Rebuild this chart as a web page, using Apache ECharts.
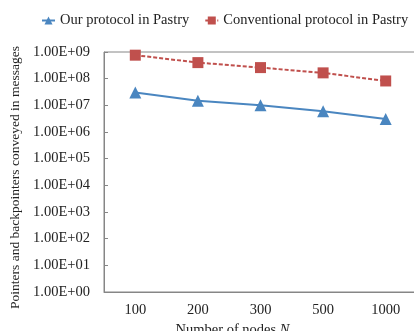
<!DOCTYPE html>
<html>
<head>
<meta charset="utf-8">
<script src="https://cdn.jsdelivr.net/npm/echarts@6/dist/echarts.min.js"></script>
<style>
html,body{margin:0;padding:0;background:#fff;}
#chart{width:414px;height:331px;}
</style>
</head>
<body>
<div id="chart"></div>
<script>
var categories = ['100', '200', '300', '500', '1000'];
var ourProtocol = [3.0e7, 1.5e7, 1.0e7, 6.0e6, 3.1e6];
var conventional = [7.6e8, 4.0e8, 2.6e8, 1.65e8, 8.2e7];
var yTickLabels = ['1.00E+00','1.00E+01','1.00E+02','1.00E+03','1.00E+04','1.00E+05','1.00E+06','1.00E+07','1.00E+08','1.00E+09'];
var seriesNames = ['Our protocol in Pastry', 'Conventional protocol in Pastry'];

var font = '"Liberation Serif", "Times New Roman", serif';
var fs = 14.5;
var axisColor = '#868686';
var chart = echarts.init(document.getElementById('chart'), null, {renderer: 'canvas'});
chart.setOption({
  animation: false,
  textStyle: {fontFamily: font, color: '#000'},
  legend: {
    top: 13,
    left: 41,
    width: 400,
    padding: 0,
    itemWidth: 13,
    itemHeight: 10,
    itemGap: 15,
    textStyle: {fontFamily: font, fontSize: fs, color: '#222'},
    data: seriesNames
  },
  grid: {
    left: 104, top: 52, width: 313, height: 240,
    outerBoundsMode: 'none',
    containLabel: false,
    show: true, borderColor: axisColor, borderWidth: 1
  },
  xAxis: {
    type: 'category',
    data: categories,
    boundaryGap: true,
    axisLine: {lineStyle: {color: axisColor}},
    axisTick: {inside: true, length: 4, lineStyle: {color: axisColor}},
    axisLabel: {fontFamily: font, fontSize: fs, color: '#222', margin: 11},
    name: 'Number of nodes {i|N}',
    nameLocation: 'middle',
    nameGap: 30,
    nameTextStyle: {
      fontFamily: font, fontSize: fs, color: '#222',
      padding: [0, 56, 0, 0],
      rich: {i: {fontStyle: 'italic', fontFamily: font, fontSize: fs, color: '#222'}}
    }
  },
  yAxis: {
    type: 'log',
    logBase: 10,
    min: 1,
    max: 1e9,
    splitLine: {show: false},
    axisLine: {show: true, lineStyle: {color: axisColor}},
    axisTick: {show: true, inside: true, length: 4, lineStyle: {color: axisColor}},
    axisLabel: {
      fontFamily: font, fontSize: fs, color: '#222', margin: 14,
      formatter: function (v) { return yTickLabels[Math.round(Math.log10(v))]; }
    },
    name: 'Pointers and backpointers conveyed in messages',
    nameLocation: 'middle',
    nameGap: 80,
    nameTextStyle: {fontFamily: font, fontSize: 13.5, color: '#222', padding: [0, 11, 0, 0]}
  },
  series: [
    {
      name: seriesNames[0],
      type: 'line',
      data: ourProtocol,
      symbol: 'triangle',
      symbolSize: 12,
      color: '#4A86C0',
      lineStyle: {width: 2, color: '#4A86C0'},
      itemStyle: {color: '#4A86C0'}
    },
    {
      name: seriesNames[1],
      type: 'line',
      data: conventional,
      symbol: 'rect',
      symbolSize: 11,
      color: '#C0504D',
      lineStyle: {width: 2, type: [4, 2], color: '#C0504D'},
      itemStyle: {color: '#C0504D'}
    }
  ]
});
</script>
</body>
</html>
